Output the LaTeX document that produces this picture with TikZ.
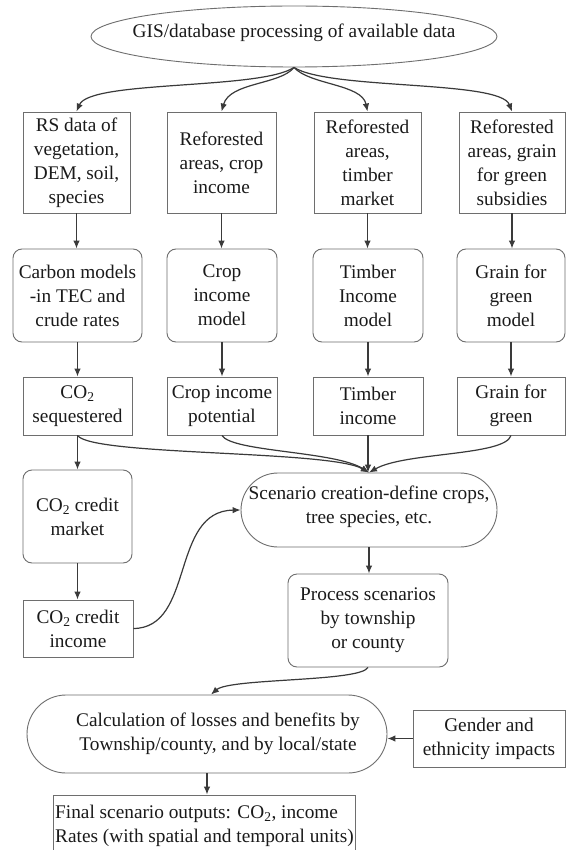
\documentclass[tikz,border=0pt]{standalone}
\usepackage{fontspec}
\setmainfont{Liberation Serif}
\usetikzlibrary{arrows.meta,shapes.geometric,shapes.misc}
\definecolor{boxc}{HTML}{6E6E6E}
\definecolor{linec}{HTML}{3A3A3A}
\definecolor{txtc}{HTML}{1A1A1A}
\begin{document}
\begin{tikzpicture}[x=1pt,y=-1pt,
  every node/.style={font=\fontsize{19.3}{24}\selectfont, text=txtc, align=center, inner sep=0pt},
  rbox/.style={draw=boxc, line width=0.9pt, rectangle},
  rrbox/.style={draw=boxc, line width=0.9pt, rectangle, rounded corners=9pt},
  stad/.style={draw=boxc, line width=0.9pt, rounded rectangle},
  oval/.style={draw=boxc, line width=0.9pt, ellipse},
  conn/.style={draw=linec, line width=1.2pt, -{Latex[length=8pt,width=6.5pt]}},
]
\clip (0,0) rectangle (566,850);
\fill[white] (0,0) rectangle (566,850);

% top
\node[oval, minimum width=406, minimum height=61,
  label={[yshift=4pt]center:GIS/database processing of available data}] (gis) at (294,36.5) {};

% row 1
\node[rbox, minimum width=107, minimum height=101] (r1a) at (76.5,162.5) {RS data of\\vegetation,\\DEM, soil,\\species};
\node[rbox, minimum width=109, minimum height=101] (r1b) at (221.5,162.5) {Reforested\\areas, crop\\income};
\node[rbox, minimum width=107, minimum height=101] (r1c) at (367.5,162.5) {Reforested\\areas,\\timber\\market};
\node[rbox, minimum width=106, minimum height=101] (r1d) at (512,162.5) {Reforested\\areas, grain\\for green\\subsidies};

% row 2
\node[rrbox, minimum width=129, minimum height=93] (r2a) at (77.5,295.5) {Carbon models\\-in TEC and\\crude rates};
\node[rrbox, minimum width=110, minimum height=93] (r2b) at (222,295.5) {Crop\\income\\model};
\node[rrbox, minimum width=110, minimum height=93] (r2c) at (368,295.5) {Timber\\Income\\model};
\node[rrbox, minimum width=108, minimum height=93] (r2d) at (511,295.5) {Grain for\\green\\model};

% row 3
\node[rbox, minimum width=109, minimum height=58] (r3a) at (77.5,406) {CO\textsubscript{2}\\sequestered};
\node[rbox, minimum width=110, minimum height=58] (r3b) at (222,406) {Crop income\\potential};
\node[rbox, minimum width=110, minimum height=58] (r3c) at (368,406) {Timber\\income};
\node[rbox, minimum width=108, minimum height=58] (r3d) at (511,406) {Grain for\\green};

% left column
\node[rrbox, minimum width=109, minimum height=93] (mkt) at (77.5,516.5) {CO\textsubscript{2} credit\\market};
\node[rbox, minimum width=110, minimum height=57] (inc) at (78,628.5) {CO\textsubscript{2} credit\\income};

% scenario
\node[stad, minimum width=256, minimum height=74,
  label={[yshift=3pt]center:Scenario creation-define crops,\\tree species, etc.}] (scen) at (369,510) {};
\node[rrbox, minimum width=160, minimum height=93] (proc) at (368,620.5) {Process scenarios\\by township\\or county};

% calculation
\node[stad, minimum width=360, minimum height=78,
  label={[xshift=11pt]center:Calculation of losses and benefits by\\Township/county, and by local/state}] (calc) at (207,734) {};
\node[rbox, minimum width=152, minimum height=57] (gender) at (489,738.5) {Gender and\\ethnicity impacts};

% final
\node[rbox, minimum width=302, minimum height=66] (final) at (204,828) {};
\node[anchor=west, align=left] (finaltext) at (55,826) {Final scenario outputs: CO\textsubscript{2}, income\\Rates (with spatial and temporal units)};

% connectors from top
\draw[conn] (gis.south) .. controls (260,90) and (90,80) .. (r1a.north);
\draw[conn] (gis.south) .. controls (280,85) and (230,82) .. (r1b.north);
\draw[conn] (gis.south) .. controls (310,85) and (362,84) .. (r1c.north);
\draw[conn] (gis.south) .. controls (330,90) and (500,80) .. (r1d.north);

% vertical links
\foreach \a/\b in {r1a/r2a, r1b/r2b, r1c/r2c, r1d/r2d, r2a/r3a, r2b/r3b, r2c/r3c, r2d/r3d, r3a/mkt, mkt/inc}
  \draw[conn] (\a.south) -- (\a.south |- \b.north);

% merging into scenario
\draw[conn] (r3a.south) .. controls (92,456) and (330,450) .. (scen.north);
\draw[conn] (r3b.south) .. controls (232,452) and (335,451) .. (scen.north);
\draw[conn] (r3c.south) -- (r3c.south |- scen.north);
\draw[conn] (r3d.south) .. controls (505,456) and (405,452) .. (scen.north);

% credit income -> scenario
\draw[conn] (inc.east) .. controls (195,628) and (170,511) .. (scen.west);

% scenario -> process
\draw[conn] (scen.south) -- (scen.south |- proc.north);

% process -> calc
\draw[conn] (proc.south) .. controls (360,682) and (230,678) .. ([xshift=4pt]calc.north);

% gender -> calc
\draw[conn] (gender.west) -- (gender.west -| calc.east);

% calc -> final
\draw[conn] (calc.south) -- (calc.south |- final.north);
\end{tikzpicture}
\end{document}
